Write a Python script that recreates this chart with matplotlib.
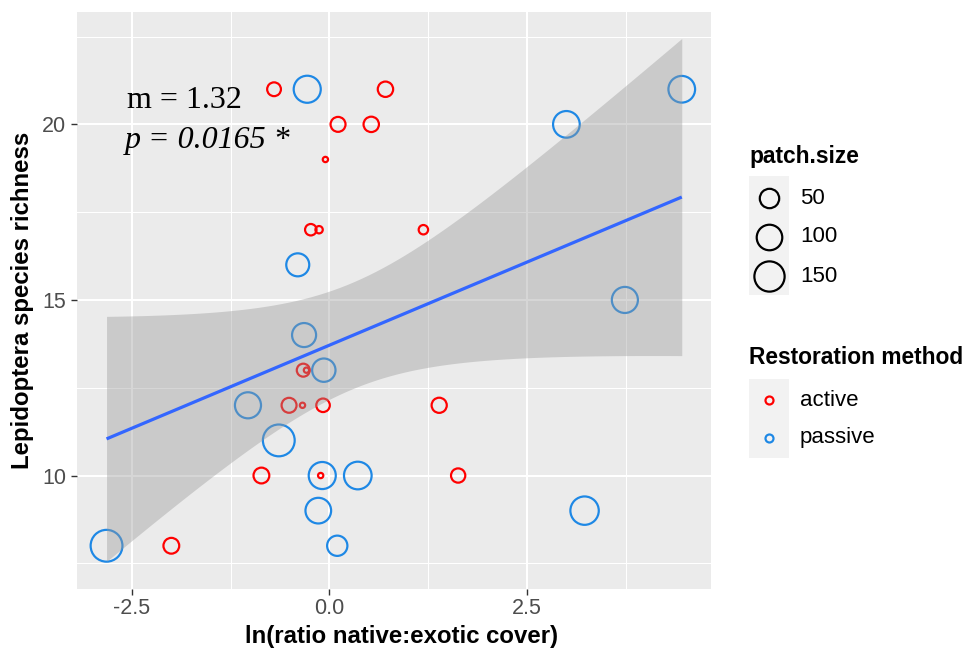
import numpy as np
import matplotlib
matplotlib.use("Agg")
import matplotlib.pyplot as plt
from matplotlib.lines import Line2D
from matplotlib.patches import Rectangle

# ---------------- data ----------------
active_x = [-0.70, 0.71, 0.11, 0.53, -0.05, -0.235, -0.13, 1.19, -0.33, -0.29,
            -0.51, -0.34, -0.08, -0.86, -0.11, 1.63, 1.39, -2.00]
active_y = [21, 21, 20, 20, 19, 17, 17, 17, 13, 13, 12, 12, 12, 10, 10, 10, 12, 8]
active_size = [20, 27, 25, 27, 3, 12, 4, 7, 17, 3, 25, 3, 19, 29, 3, 22, 26, 29]

passive_x = [-0.28, -0.40, -0.32, -0.07, -1.03, -0.64, -0.09, 0.36, -0.14, -2.82,
             0.10, 3.00, 4.46, 3.74, 3.23]
passive_y = [21, 16, 14, 13, 12, 11, 10, 10, 9, 8, 8, 20, 21, 15, 9]
passive_size = [115, 77, 86, 80, 105, 169, 115, 121, 101, 169, 56, 111, 111, 105, 129]

size_breaks = [50, 100, 150]
method_labels = ["active", "passive"]
method_colors = ["#FF0000", "#1E88E5"]

x_ticks = [-2.5, 0.0, 2.5]
x_ticklabels = ["-2.5", "0.0", "2.5"]
y_ticks = [10, 15, 20]
y_ticklabels = ["10", "15", "20"]

T_CRIT = 2.0395  # t(0.975, df=31)

# ---------------- figure ----------------
W, H, DPI = 969, 649, 100
fig = plt.figure(figsize=(W / DPI, H / DPI), dpi=DPI)
PX = 72.0 / DPI  # points per pixel

def fx(px):
    return px / W

def fy(py):
    return 1 - py / H

L, R, T, B = 77.3, 711.0, 12.0, 589.3
ax = fig.add_axes([fx(L), fy(B), fx(R) - fx(L), fy(T) - fy(B)])
ax.set_facecolor("#EBEBEB")
for s in ax.spines.values():
    s.set_visible(False)

ax.set_xlim(-3.19, 4.83)
ax.set_ylim(6.76, 23.20)

# grid
ax.set_xticks(x_ticks)
ax.set_xticklabels(x_ticklabels)
ax.set_yticks(y_ticks)
ax.set_yticklabels(y_ticklabels)
ax.set_xticks([-1.25, 1.25, 3.75], minor=True)
ax.set_yticks([7.5, 12.5, 17.5, 22.5], minor=True)
ax.grid(which="major", color="white", linewidth=2.0 * PX)
ax.grid(which="minor", color="white", linewidth=1.0 * PX)
ax.set_axisbelow(True)
ax.tick_params(which="minor", length=0)
ax.tick_params(which="major", length=6 * PX, width=1.4 * PX, color="#333333",
               labelcolor="#4D4D4D", labelsize=15.5)
ax.tick_params(axis="x", which="major", pad=3 * PX)
ax.tick_params(axis="y", which="major", pad=5 * PX)
for lab in ax.get_xticklabels() + ax.get_yticklabels():
    lab.set_fontfamily("Liberation Sans")

# size mapping (ggplot-like area scale)
all_sizes = np.array(active_size + passive_size, dtype=float)
smin, smax = all_sizes.min(), all_sizes.max()
C_PX = 5.3
STROKE_PX = 2.2

def diam_px(v):
    v = np.asarray(v, dtype=float)
    frac = np.clip((v - smin) / (smax - smin), 0, 1)
    return C_PX * (1 + 5 * np.sqrt(frac))

def s_area(v):
    return (diam_px(v) * PX) ** 2

ax.scatter(active_x, active_y, s=s_area(active_size), facecolors="none",
           edgecolors=method_colors[0], linewidths=STROKE_PX * PX, zorder=3)
ax.scatter(passive_x, passive_y, s=s_area(passive_size), facecolors="none",
           edgecolors=method_colors[1], linewidths=STROKE_PX * PX, zorder=3)

# linear fit with 95% CI
xa = np.array(active_x + passive_x)
ya = np.array(active_y + passive_y, dtype=float)
n = len(xa)
b1, b0 = np.polyfit(xa, ya, 1)
resid = ya - (b0 + b1 * xa)
s2 = np.sum(resid ** 2) / (n - 2)
xm = xa.mean()
sxx = np.sum((xa - xm) ** 2)
xs = np.linspace(xa.min(), xa.max(), 80)
yfit = b0 + b1 * xs
se = np.sqrt(s2 * (1.0 / n + (xs - xm) ** 2 / sxx))
ax.fill_between(xs, yfit - T_CRIT * se, yfit + T_CRIT * se, color="#999999",
                alpha=0.4, linewidth=0, zorder=4)
ax.plot(xs, yfit, color="#3366FF", linewidth=3.2 * PX, zorder=5,
        solid_capstyle="butt")

# annotation
fig.text(fx(127), fy(108), "m = 1.32", family="Liberation Serif", fontsize=23,
         ha="left", va="baseline", color="black")
fig.text(fx(125), fy(148), "p = 0.0165 *", family="Liberation Serif",
         style="italic", fontsize=23, ha="left", va="baseline", color="black")

# axis titles
fig.text(fx((L + R) / 2 + 7), fy(637), "ln(ratio native:exotic cover)",
         family="Liberation Sans", fontweight="bold", fontsize=17.3,
         ha="center", va="center")
fig.text(fx(23), fy((T + B) / 2), "Lepidoptera species richness",
         family="Liberation Sans", fontweight="bold", fontsize=17.3,
         ha="center", va="center", rotation=90)

# ---------------- legends (drawn manually, ggplot style) ----------------
def add_key_bg(x0, y0, x1, y1):
    fig.patches.append(Rectangle((fx(x0), fy(y1)), fx(x1) - fx(x0), fy(y0) - fy(y1),
                                 transform=fig.transFigure, facecolor="#F2F2F2",
                                 edgecolor="none", zorder=1))

fig.text(fx(749), fy(157), "patch.size", family="Liberation Sans",
         fontweight="bold", fontsize=16.4, ha="left", va="center")
add_key_bg(749, 176, 789, 295)
size_key_y = [198, 237, 276]
for v, yy in zip(size_breaks, size_key_y):
    d = float(diam_px(v))
    fig.add_artist(Line2D([fx(769)], [fy(yy)], transform=fig.transFigure,
                          marker="o", markersize=d * PX, markerfacecolor="none",
                          markeredgecolor="black", markeredgewidth=STROKE_PX * PX,
                          linestyle="none", zorder=2))
    fig.text(fx(800), fy(yy), str(v), family="Liberation Sans", fontsize=16,
             ha="left", va="center")

fig.text(fx(749), fy(357), "Restoration method", family="Liberation Sans",
         fontweight="bold", fontsize=16.4, ha="left", va="center")
add_key_bg(749, 379, 789, 458)
meth_key_y = [400, 438]
for lab, col, yy in zip(method_labels, method_colors, meth_key_y):
    fig.add_artist(Line2D([fx(769)], [fy(yy)], transform=fig.transFigure,
                          marker="o", markersize=8 * PX, markerfacecolor="none",
                          markeredgecolor=col, markeredgewidth=STROKE_PX * PX,
                          linestyle="none", zorder=2))
    fig.text(fx(800), fy(yy), lab, family="Liberation Sans", fontsize=16,
             ha="left", va="center")

fig.savefig("out.png", dpi=DPI, facecolor="white")
